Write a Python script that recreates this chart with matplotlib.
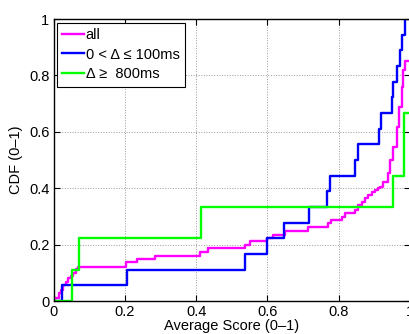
import matplotlib
matplotlib.use("Agg")
import matplotlib.pyplot as plt

# step breakpoints (x = average score, y = CDF level after the step)
all_x = [0, 0.015, 0.022, 0.028, 0.035, 0.042, 0.05, 0.056, 0.063, 0.07,
         0.203, 0.235, 0.285, 0.411, 0.434, 0.537, 0.551, 0.6, 0.617, 0.649,
         0.714, 0.771, 0.777, 0.808, 0.818, 0.846, 0.855, 0.864, 0.874, 0.883,
         0.893, 0.902, 0.909, 0.916, 0.925, 0.939, 0.944, 0.953, 0.963, 0.970,
         0.977, 0.981, 0.986, 1.0]
all_y = [0.01, 0.027, 0.04, 0.055, 0.068, 0.08, 0.09, 0.1, 0.112, 0.122,
         0.137, 0.15, 0.161, 0.175, 0.187, 0.199, 0.213, 0.222, 0.234, 0.249,
         0.261, 0.275, 0.287, 0.299, 0.311, 0.323, 0.34, 0.352, 0.364, 0.376,
         0.385, 0.393, 0.4, 0.405, 0.423, 0.453, 0.5, 0.547, 0.618, 0.689,
         0.76, 0.819, 0.852, 0.852]

short_x = [0, 0.025, 0.205, 0.537, 0.598, 0.647, 0.717, 0.768, 0.776, 0.846,
           0.855, 0.914, 0.919, 0.949, 0.953, 0.963, 0.972, 0.978, 0.986, 1.0]
short_y = [0, 0.056, 0.111, 0.167, 0.222, 0.278, 0.333, 0.389, 0.444, 0.5,
           0.556, 0.611, 0.667, 0.722, 0.778, 0.833, 0.889, 0.944, 1.0, 1.0]

long_x = [0, 0.051, 0.072, 0.413, 0.951, 0.984, 1.0]
long_y = [0, 0.111, 0.222, 0.333, 0.444, 0.667, 0.667]

plt.rcParams['font.family'] = ['Liberation Sans', 'DejaVu Sans']

fig = plt.figure(figsize=(4.10, 3.34), dpi=100)
ax = fig.add_axes([0.1305, 0.0988, 0.8695, 0.8443])

ax.step(all_x, all_y, where='post', color=(1, 0, 1), lw=1.7, label='all')
ax.step(short_x, short_y, where='post', color=(0, 0, 1), lw=1.7,
        label='0 < \u0394 \u2264 100ms')
ax.step(long_x, long_y, where='post', color=(0, 1, 0), lw=1.7,
        label='\u0394 \u2265  800ms')

ax.set_xlim(0, 1)
ax.set_ylim(0, 1)
ticks = [0, 0.2, 0.4, 0.6, 0.8, 1]
labels = ['0', '0.2', '0.4', '0.6', '0.8', '1']
ax.set_xticks(ticks)
ax.set_xticklabels(labels)
ax.set_yticks(ticks)
ax.set_yticklabels(labels)
ax.tick_params(direction='in', length=4, width=0.8, top=True, right=True,
               labelsize=10.5, pad=3)
ax.grid(True, linestyle=':', color='#999999', linewidth=0.7)
for s in ax.spines.values():
    s.set_linewidth(1.0)

ax.set_xlabel('Average Score (0\u20131)', fontsize=10.5, labelpad=0)
ax.set_ylabel('CDF (0\u20131)', fontsize=10.5, labelpad=4)

leg = ax.legend(loc='upper left', fontsize=10.5, handlelength=1.5,
                handletextpad=0.1, borderaxespad=0.25, borderpad=0.35,
                labelspacing=0.4, fancybox=False, framealpha=1)
leg.get_frame().set_edgecolor('black')
leg.get_frame().set_linewidth(0.8)

fig.savefig('out.png', dpi=100)
